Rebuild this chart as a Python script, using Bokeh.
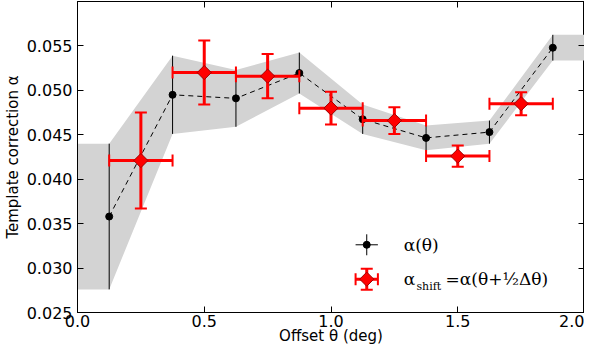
import numpy as np
from bokeh.plotting import figure
from bokeh.models import ColumnDataSource, LinearAxis, FixedTicker, Label, Range1d
from bokeh.embed import file_html
from bokeh.resources import INLINE

# ---- data ----
theta = [0.125, 0.375, 0.625, 0.875, 1.125, 1.375, 1.625, 1.875]
alpha = [0.0358, 0.0495, 0.0491, 0.05195, 0.04675, 0.04465, 0.0453, 0.0548]
alpha_err = [0.0082, 0.0044, 0.0032, 0.0023, 0.00165, 0.0014, 0.0013, 0.00145]

theta_shift = [0.25, 0.5, 0.75, 1.0, 1.25, 1.5, 1.75]
alpha_shift = [0.0421, 0.0520, 0.0516, 0.0480, 0.0466, 0.0426, 0.0485]
alpha_shift_err = [0.0054, 0.0036, 0.0025, 0.00185, 0.0015, 0.0012, 0.0013]
theta_half_bin = 0.125

x_ticks = [0.0, 0.5, 1.0, 1.5, 2.0]
y_ticks = [0.025, 0.030, 0.035, 0.040, 0.045, 0.050, 0.055]
x_range = (0.0, 2.0)
y_range = (0.025, 0.060)

# ---- derived ----
a = np.array(alpha); e = np.array(alpha_err)
band_x = [x_range[0]] + theta + [x_range[1]]
band_lo = np.concatenate([[a[0] - e[0]], a - e, [a[-1] - e[-1]]])
band_hi = np.concatenate([[a[0] + e[0]], a + e, [a[-1] + e[-1]]])

src_a = ColumnDataSource(dict(x=theta, y=alpha, lo=list(a - e), hi=list(a + e)))
s = np.array(alpha_shift); se = np.array(alpha_shift_err); ts = np.array(theta_shift)
src_s = ColumnDataSource(dict(x=theta_shift, y=alpha_shift, lo=list(s - se), hi=list(s + se),
                              xl=list(ts - theta_half_bin), xh=list(ts + theta_half_bin)))

p = figure(width=584, height=347, output_backend="svg", toolbar_location=None,
           x_range=Range1d(*x_range), y_range=Range1d(*y_range),
           min_border_left=0, min_border_right=0, min_border_top=1, min_border_bottom=0)
p.grid.visible = False
p.outline_line_color = "black"
p.outline_line_width = 1

TICK_FONT = "16px"
for ax in (p.xaxis[0], p.yaxis[0]):
    ax.major_tick_in = 6
    ax.major_tick_out = 0
    ax.minor_tick_line_color = None
    ax.major_label_text_font = "DejaVu Sans"
    ax.major_label_text_font_size = TICK_FONT
    ax.major_label_text_color = "black"
    ax.axis_label_text_font = "DejaVu Sans"
    ax.axis_label_text_font_size = "15px"
    ax.axis_label_text_font_style = "normal"
    ax.axis_label_text_color = "black"
    ax.axis_line_color = "black"
p.xaxis[0].ticker = FixedTicker(ticks=x_ticks)
p.yaxis[0].ticker = FixedTicker(ticks=y_ticks)
p.xaxis[0].major_label_overrides = {t: f"{t:.1f}" for t in x_ticks}
p.yaxis[0].major_label_overrides = {t: f"{t:.3f}" for t in y_ticks}
p.xaxis[0].axis_label = "Offset θ (deg)"
p.yaxis[0].axis_label = "Template correction α"
p.xaxis[0].major_label_standoff = 2
p.xaxis[0].axis_label_standoff = -3
p.yaxis[0].major_label_standoff = 5
p.yaxis[0].axis_label_standoff = 2

top = LinearAxis(ticker=FixedTicker(ticks=x_ticks), major_tick_in=6, major_tick_out=0,
                 minor_tick_line_color=None, major_label_text_font_size="1px",
                 major_label_text_color=None, major_label_standoff=0, axis_label_standoff=0,
                 axis_line_color="black")
right = LinearAxis(ticker=FixedTicker(ticks=y_ticks), major_tick_in=6, major_tick_out=0,
                   minor_tick_line_color=None, major_label_text_font_size="1px",
                   major_label_text_color=None, major_label_standoff=0, axis_label_standoff=0,
                   axis_line_color="black")
p.add_layout(top, "above")
p.add_layout(right, "right")

# grey uncertainty band
p.varea(x=band_x, y1=list(band_lo), y2=list(band_hi), fill_color="#d3d3d3", fill_alpha=1.0)

# alpha(theta): dashed line, vertical error bars, dots
p.line("x", "y", source=src_a, line_color="black", line_dash="5 4", line_width=1)
p.segment(x0="x", y0="lo", x1="x", y1="hi", source=src_a, line_color="black", line_width=1)
p.scatter("x", "y", source=src_a, marker="circle", size=7, fill_color="black", line_color="black")

# shifted points: red error bars with caps + diamonds
p.segment(x0="x", y0="lo", x1="x", y1="hi", source=src_s, line_color="red", line_width=3)
p.segment(x0="xl", y0="y", x1="xh", y1="y", source=src_s, line_color="red", line_width=3)
p.scatter("x", "lo", source=src_s, marker="dash", size=12, line_color="red", line_width=2)
p.scatter("x", "hi", source=src_s, marker="dash", size=12, line_color="red", line_width=2)
p.scatter("xl", "y", source=src_s, marker="dash", angle=np.pi / 2, size=12, line_color="red", line_width=2)
p.scatter("xh", "y", source=src_s, marker="dash", angle=np.pi / 2, size=12, line_color="red", line_width=2)
p.scatter("x", "y", source=src_s, marker="square", angle=np.pi / 4, size=10,
          fill_color="red", line_color="#a00000", line_width=1)

# ---- legend (manual, lower right) ----
leg_x = 1.141
leg_y1 = 0.03262
leg_y2 = 0.02875
arm_x = 0.044
arm_y = 0.00118
p.segment(x0=[leg_x - arm_x, leg_x], y0=[leg_y1, leg_y1 - arm_y],
          x1=[leg_x + arm_x, leg_x], y1=[leg_y1, leg_y1 + arm_y], line_color="black", line_width=1)
p.scatter(x=[leg_x], y=[leg_y1], marker="circle", size=7, fill_color="black", line_color="black")
p.segment(x0=[leg_x - arm_x, leg_x], y0=[leg_y2, leg_y2 - arm_y],
          x1=[leg_x + arm_x, leg_x], y1=[leg_y2, leg_y2 + arm_y], line_color="red", line_width=3)
p.scatter(x=[leg_x - arm_x, leg_x + arm_x], y=[leg_y2, leg_y2], marker="dash", angle=np.pi / 2,
          size=12, line_color="red", line_width=2)
p.scatter(x=[leg_x, leg_x], y=[leg_y2 - arm_y, leg_y2 + arm_y], marker="dash",
          size=12, line_color="red", line_width=2)
p.scatter(x=[leg_x], y=[leg_y2], marker="square", angle=np.pi / 4, size=10,
          fill_color="red", line_color="#a00000", line_width=1)

txt = dict(text_font="DejaVu Serif", text_color="black", text_baseline="middle")
p.add_layout(Label(x=1.287, y=leg_y1, text="α(θ)", text_font_size="17px", **txt))
p.add_layout(Label(x=1.287, y=leg_y2, text="α", text_font_size="17px", **txt))
p.add_layout(Label(x=1.337, y=0.02795, text="shift", text_font_size="11px", **txt))
p.add_layout(Label(x=1.452, y=leg_y2, text="=α(θ+½Δθ)", text_font_size="17px", **txt))

open("out.html", "w").write(file_html(p, INLINE))
